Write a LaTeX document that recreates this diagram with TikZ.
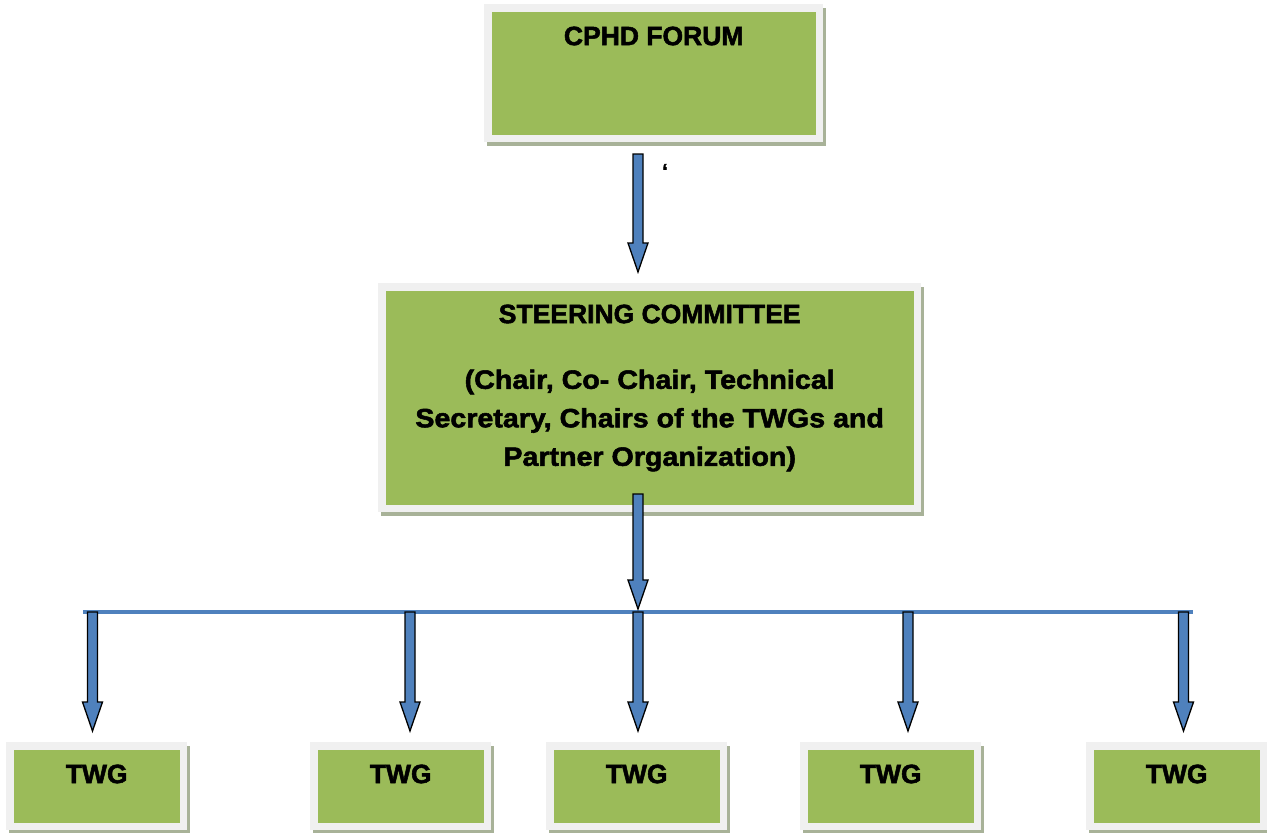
\documentclass[tikz,border=0pt]{standalone}
\usepackage{fontspec}
\setmainfont{Liberation Sans}
\newfontfamily\heavyfont[FakeBold=2]{Liberation Sans Bold}
\newfontfamily\heavywide[FakeBold=2,FakeStretch=1.08]{Liberation Sans Bold}
\usetikzlibrary{calc,shadows}
\definecolor{boxgreen}{RGB}{155,187,89}
\definecolor{framegray}{RGB}{240,240,240}
\definecolor{shadowcol}{RGB}{168,178,152}
\definecolor{arrowblue}{RGB}{79,129,189}
\tikzset{
  orgbox/.style={draw=none, fill=framegray, inner sep=0pt, anchor=north west,
    drop shadow={shadow xshift=3pt, shadow yshift=-4pt, fill=shadowcol, opacity=1},
    path picture={\fill[boxgreen] ([shift={(7.5pt,-7.5pt)}]path picture bounding box.north west)
      rectangle ([shift={(-7.5pt,7.5pt)}]path picture bounding box.south east);}},
  lbl/.style={inner sep=0pt, font=\heavyfont\fontsize{26.5}{38.5}\selectfont, align=center},
  widelbl/.style={lbl, font=\heavywide\fontsize{26.5}{38.5}\selectfont},
  blk/.style={fill=arrowblue, draw=black, line width=1.3pt, line join=miter},
  bus/.style={draw=arrowblue, line width=4.5pt}
}
\newcommand\blkarrow[2]{%
  \filldraw[blk] let \p1=(#1), \p2=(#2) in
    (\x1-5pt,\y1) -- (\x1+5pt,\y1) -- (\x1+5pt,\y2+29pt) -- (\x1+10pt,\y2+29pt)
    -- (\x1,\y2) -- (\x1-10pt,\y2+29pt) -- (\x1-5pt,\y2+29pt) -- cycle;}
\begin{document}
\begin{tikzpicture}[x=1pt,y=-1pt]
\useasboundingbox (0,0) rectangle (1267,833);
% boxes
\node[orgbox, minimum width=339pt, minimum height=138pt] (cphd) at (484,4) {};
\node[orgbox, minimum width=543pt, minimum height=229pt] (sc) at (378,283) {};
\node[orgbox, minimum width=181pt, minimum height=88pt] (t1) at (6,742) {};
\node[orgbox, minimum width=181pt, minimum height=88pt] (t2) at (310,742) {};
\node[orgbox, minimum width=181pt, minimum height=88pt] (t3) at (546,742) {};
\node[orgbox, minimum width=181pt, minimum height=88pt] (t4) at (800,742) {};
\node[orgbox, minimum width=181pt, minimum height=88pt] (t5) at (1086,742) {};
% labels
\node[lbl] (cphd-l) at ($(cphd.north)+(0,32)$) {CPHD FORUM};
\node[lbl] (sc-l1) at ($(sc.north)+(0,31)$) {STEERING COMMITTEE};
\node[widelbl] (sc-l2) at ($(sc.north)+(0,137.5)$) {(Chair, Co- Chair, Technical\\Secretary, Chairs of the TWGs and\\Partner Organization)};
\foreach \i in {1,...,5}{\node[lbl] (t\i-l) at ($(t\i.north)+(0,32)$) {TWG};}
\node[font=\heavyfont\fontsize{20}{20}\selectfont, inner sep=0pt] (quote) at (665,171) {‘};
% bus line
\coordinate (busL) at (83,612);
\coordinate (busR) at (1193,612);
\draw[bus] (busL) -- (busR);
% arrows
\coordinate (a0s) at (638,154);
\coordinate (a1s) at (638,494);
\blkarrow{a0s}{$(sc.north)+(0,-11)$}
\blkarrow{a1s}{$(busL)!0.5!(busR)+(0,-3)$}
\coordinate (b1) at (92.5,612);
\coordinate (b2) at (410,612);
\coordinate (b3) at (638,612);
\coordinate (b4) at (908,612);
\coordinate (b5) at (1183.5,612);
\foreach \i in {1,...,5}{\blkarrow{b\i}{$(t\i.north)+(0,-11)$}}
\end{tikzpicture}
\end{document}
